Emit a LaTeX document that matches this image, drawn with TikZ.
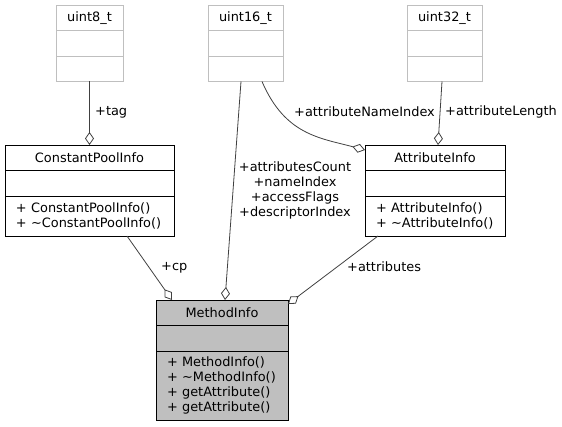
\documentclass[tikz,border=0pt]{standalone}
\usepackage{fontspec}
\setmainfont{DejaVu Sans}
\usetikzlibrary{positioning,arrows.meta}
\definecolor{boxgray}{HTML}{BFBFBF}
\definecolor{edgegray}{HTML}{404040}
\tikzset{
  row/.style={draw,rectangle,inner sep=0pt,outer sep=0pt,line width=0.9pt,minimum height=25.5pt},
  typerow/.style={row,draw=boxgray,minimum width=75pt},
  methodrow/.style={row,align=left,inner xsep=11pt,text width=#1-22pt,minimum width=#1},
  agg/.style={draw=edgegray,line width=0.8pt,-{Diamond[open,length=13pt,width=9pt]}},
  lbl/.style={inner sep=0pt,align=center}
}
\begin{document}
\begin{tikzpicture}[x=1pt,y=-1pt,font=\fontsize{12.9}{15}\selectfont,node distance=0pt]
\useasboundingbox (0,0) rectangle (562,427);
\node[typerow,minimum width=67pt](u8t) at (89.5,17.75){uint8\_t};
\node[typerow,minimum width=67pt,below=of u8t](u8a){};
\node[typerow,minimum width=67pt,below=of u8a](u8m){};
\node[typerow](u16t) at (245.5,17.75){uint16\_t};
\node[typerow,below=of u16t](u16a){};
\node[typerow,below=of u16a](u16m){};
\node[typerow](u32t) at (444.5,17.75){uint32\_t};
\node[typerow,below=of u32t](u32a){};
\node[typerow,below=of u32a](u32m){};
\node[row,minimum width=169pt](cpit) at (89.5,157.75){ConstantPoolInfo};
\node[row,minimum width=169pt,below=of cpit](cpia){};
\node[methodrow=169pt,minimum height=40pt,below=of cpia](cpim){+ ConstantPoolInfo()\\+ \textasciitilde ConstantPoolInfo()};
\node[row,minimum width=140pt](ait) at (435,157.75){AttributeInfo};
\node[row,minimum width=140pt,below=of ait](aia){};
\node[methodrow=140pt,minimum height=40pt,below=of aia](aim){+ AttributeInfo()\\+ \textasciitilde AttributeInfo()};
\node[row,fill=boxgray,minimum width=132pt](mit) at (222,312.75){MethodInfo};
\node[row,fill=boxgray,minimum width=132pt,below=of mit](mia){};
\node[methodrow=132pt,fill=boxgray,minimum height=69pt,below=of mia](mim){+ MethodInfo()\\+ \textasciitilde MethodInfo()\\+ getAttribute()\\+ getAttribute()};
\draw[agg](u8m.south)--(cpit.north);
\draw[agg]([xshift=-4.5pt]u16m.south)--([xshift=3pt]mit.north);
\draw[agg]([xshift=16.5pt]u16m.south) .. controls (285,135) and (320,138) .. ([yshift=-5pt]ait.north west);
\draw[agg]([xshift=-2.5pt]u32m.south)--([xshift=3pt]ait.north);
\draw[agg]([xshift=122pt]cpim.south west)--([xshift=16pt]mit.north west);
\draw[agg]([xshift=13pt]aim.south west)--([yshift=-4pt]mit.north east);
\node[lbl,anchor=west](ltag) at (95,112){+tag};
\node[lbl,anchor=west](lani) at (294,112){+attributeNameIndex};
\node[lbl,anchor=west](lal) at (445,112){+attributeLength};
\node[lbl](lcnt) at (295,190.5){+attributesCount\\+nameIndex\\+accessFlags\\+descriptorIndex};
\node[lbl,anchor=west](lcp) at (161,268){+cp};
\node[lbl,anchor=west](latt) at (347,267){+attributes};
\end{tikzpicture}
\end{document}
